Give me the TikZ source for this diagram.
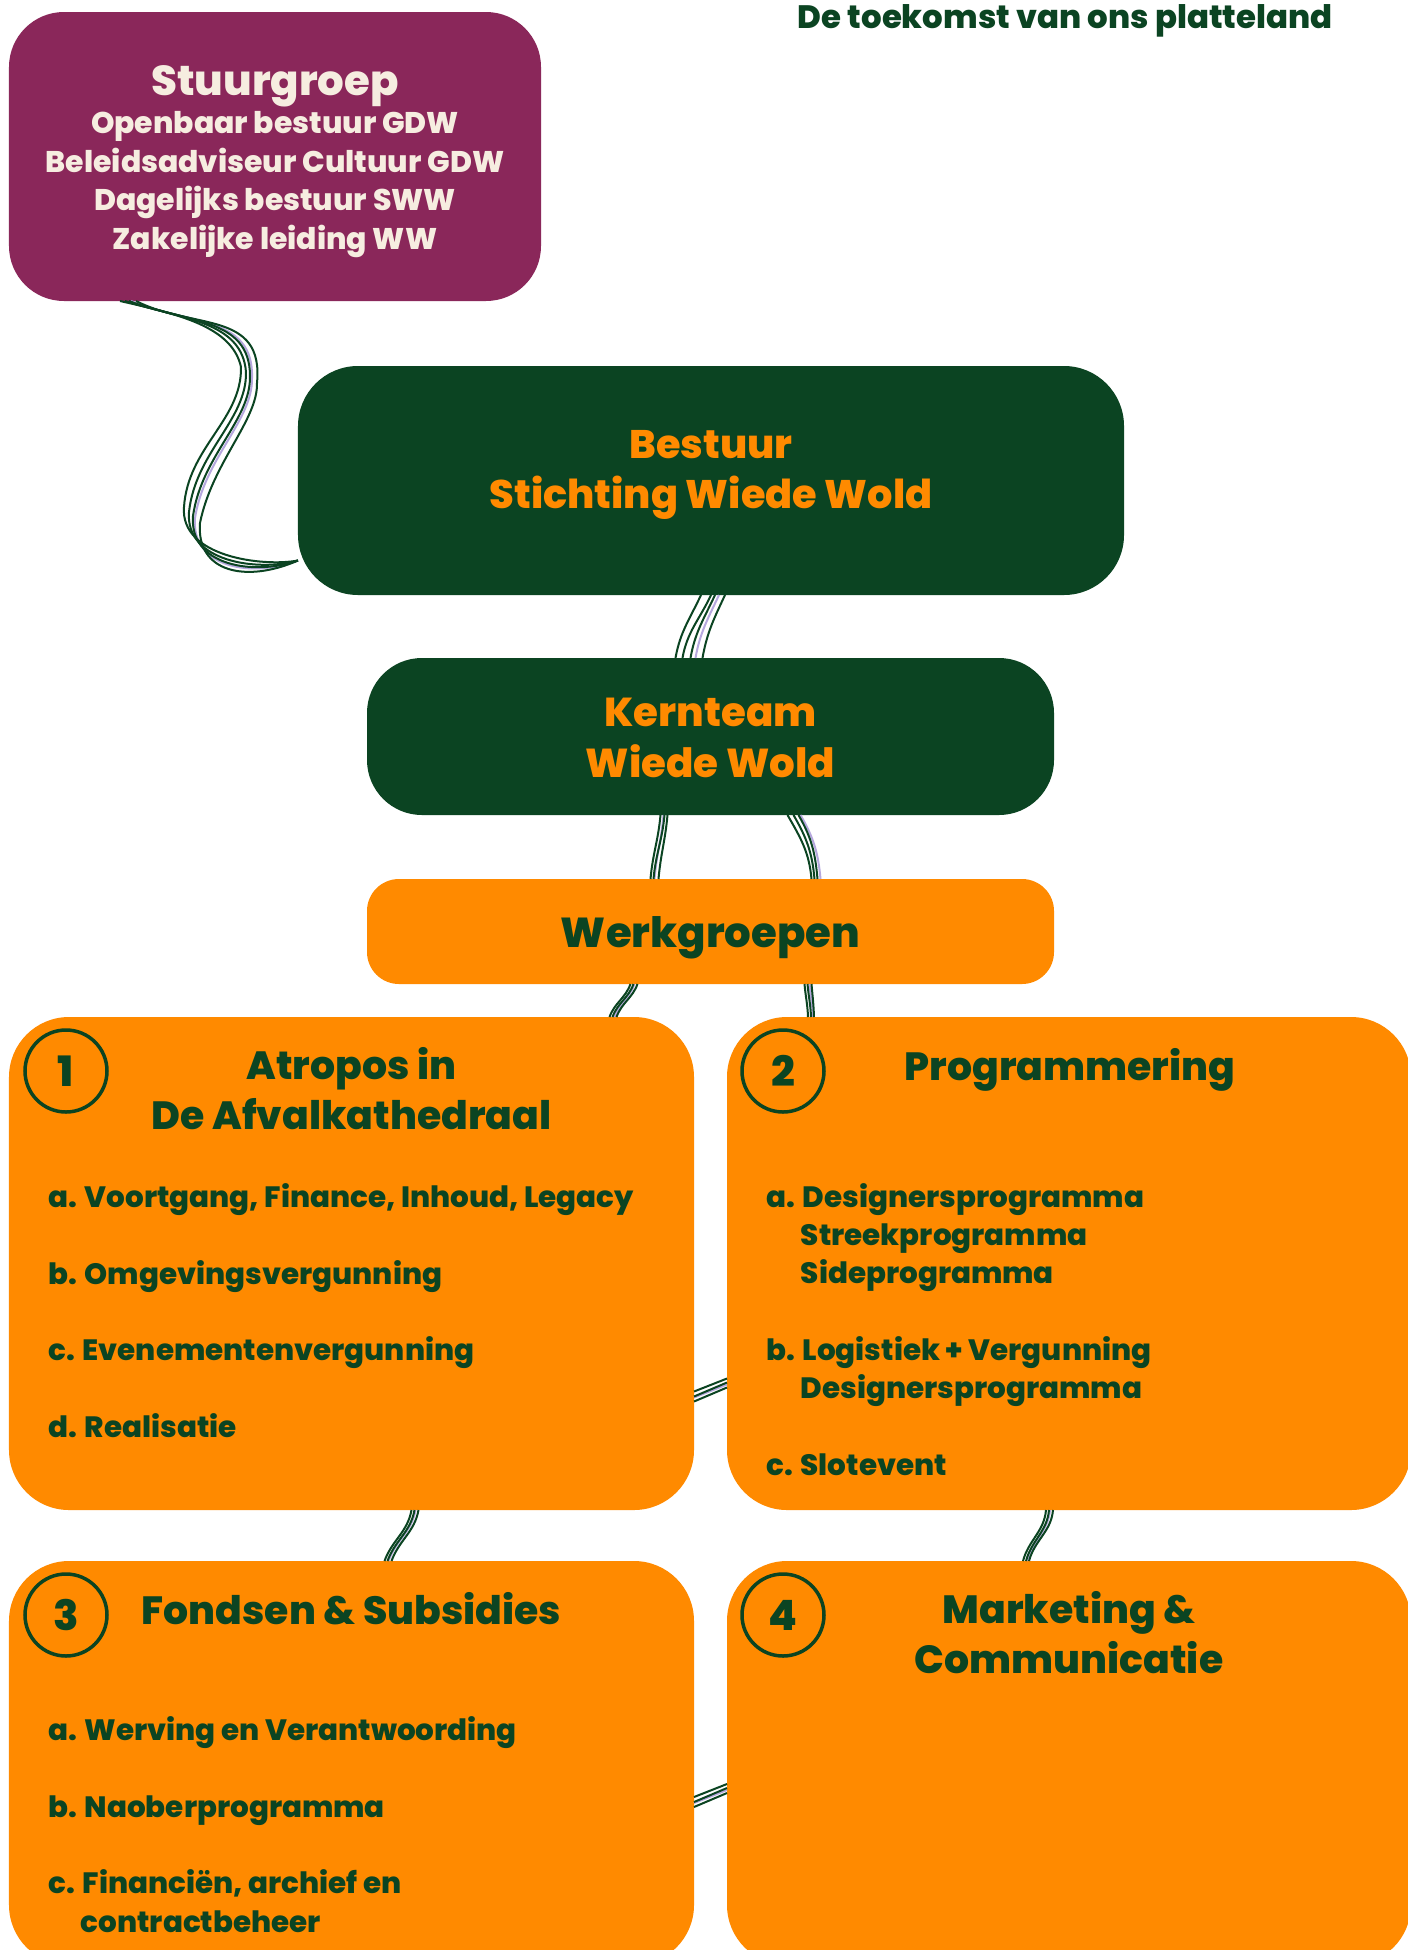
\documentclass[tikz,border=0pt]{standalone}
\usepackage{fontspec}
\setmainfont{Poppins}[BoldFont={Poppins ExtraBold}]
\usetikzlibrary{positioning}
\definecolor{wwgreen}{HTML}{0B4422}
\definecolor{wwpurple}{HTML}{8A275A}
\definecolor{wworange}{HTML}{FF8A00}
\definecolor{wwcream}{HTML}{F6EDE0}
\definecolor{wwlav}{HTML}{B6A8DE}
\newcommand{\fs}[2]{\bfseries\fontsize{#1}{#2}\selectfont}
\tikzset{
  blok/.style={inner sep=0pt,outer sep=0pt},
  strand/.style={draw=#1,line width=2bp},
  nummer/.style={circle,draw=wwgreen,line width=3.5bp,minimum size=82bp,inner sep=0pt,text=wwgreen,font=\fs{42}{42}},
  kop/.style={anchor=base,align=center,text=wwgreen,font=\fs{39.5}{50}},
  punt/.style={anchor=base west,align=left,text=wwgreen,font=\fs{29.5}{38.3}}
}
\begin{document}
\begin{tikzpicture}[x=1bp,y=-1bp]
\useasboundingbox[fill=white] (0,0) rectangle (1408,1950);
\node[blok,fill=wwpurple,rounded corners=55bp,minimum width=532bp,minimum height=289bp] (stuur) at (275,156.5) {};
\node[blok,fill=wwgreen,rounded corners=60bp,minimum width=826bp,minimum height=229bp] (best) at (711,480.5) {};
\node[blok,fill=wwgreen,rounded corners=55bp,minimum width=687bp,minimum height=157bp] (kern) at (710.5,736.5) {};
\node[blok,fill=wworange,rounded corners=32bp,minimum width=687bp,minimum height=105bp] (werk) at (710.5,931.5) {};
\node[blok,fill=wworange,rounded corners=60bp,minimum width=685bp,minimum height=493bp] (g1) at (351.5,1263.5) {};
\node[blok,fill=wworange,rounded corners=60bp,minimum width=684bp,minimum height=493bp] (g2) at (1069,1263.5) {};
\node[blok,fill=wworange,rounded corners=60bp,minimum width=685bp,minimum height=404bp] (g3) at (351.5,1763) {};
\node[blok,fill=wworange,rounded corners=60bp,minimum width=684bp,minimum height=404bp] (g4) at (1069,1763) {};

\node[anchor=base east,text=wwgreen,font=\fs{32.5}{33}] (motto) at (1336,28) {De toekomst van ons platteland};
\node[anchor=base,text=wwcream,font=\fs{42}{42}] (stuurT) at (275,95) {Stuurgroep};
\node[anchor=base,align=center,text=wwcream,font=\fs{30}{38.5}] (stuurL) at (275,249) {Openbaar bestuur GDW\\Beleidsadviseur Cultuur GDW\\Dagelijks bestuur SWW\\Zakelijke leiding WW};
\node[kop,text=wworange,font=\fs{40}{50}] (bestT) at (711,508) {Bestuur\\Stichting Wiede Wold};
\node[kop,text=wworange,font=\fs{40.5}{51}] (kernT) at (710.5,777) {Kernteam\\Wiede Wold};
\node[kop,font=\fs{42}{51}] (werkT) at (710.5,947) {Werkgroepen};

\node[nummer] (n1) at (66,1071) {1};
\node[nummer] (n2) at (783,1071) {2};
\node[nummer] (n3) at (66,1615) {3};
\node[nummer] (n4) at (783,1615) {4};
\node[kop] (g1T) at (351.5,1129) {Atropos in\\De Afvalkathedraal};
\node[kop] (g2T) at (1070,1080) {Programmering};
\node[kop] (g3T) at (351.5,1624) {Fondsen \& Subsidies};
\node[kop] (g4T) at (1069,1673) {Marketing \&\\Communicatie};
\node[punt] (g1L) at (45,1437) {a. Voortgang, Finance, Inhoud, Legacy\\[38.3bp]b. Omgevingsvergunning\\[38.3bp]c. Evenementenvergunning\\[38.3bp]d. Realisatie};
\node[punt] (g2L) at (763,1475) {a. Designersprogramma\\\phantom{a.\ }Streekprogramma\\\phantom{a.\ }Sideprogramma\\[38.3bp]b. Logistiek + Vergunning\\\phantom{b.\ }Designersprogramma\\[38.3bp]c. Slotevent};
\node[punt] (g3L) at (45,1932) {a. Werving en Verantwoording\\[38.3bp]b. Naoberprogramma\\[38.3bp]c. Financiën, archief en\\\phantom{c.\ }contractbeheer};

\foreach \d/\c in {3/wwlav,-8/wwgreen,-3/wwgreen,1/wwgreen,8/wwgreen}
  \draw[strand=\c] ([xshift={(\d-147)*1bp}]stuur.south) .. controls ({185+\d},{322+\d}) and ({248+2*\d},{318-\d}) .. ({249+\d},{375+\d}) .. controls ({250+\d},420) and ({200+1.5*\d},{455+\d}) .. ({192+\d},{515+\d}) .. controls ({188+\d},{565+\d}) and ({255-\d},{575+\d}) .. ([yshift=-80bp]best.west);
\foreach \a/\b/\c in {8/-15/wwlav,-10/-35/wwgreen,0/-28/wwgreen,14/-8/wwgreen,4/-20/wwgreen}
  \draw[strand=\c] ([xshift=\a bp]best.south) to[out=-115,in=80] ([xshift=\b bp]kern.north);
\foreach \a/\b/\c in {-47/-56/wwlav,-50/-60/wwgreen,-46/-57/wwgreen,-43/-52/wwgreen}
  \draw[strand=\c] ([xshift=\a bp]kern.south) to[out=-95,in=85] ([xshift=\b bp]werk.north);
\foreach \a/\b/\c in {90/110/wwlav,77/101/wwgreen,83/104/wwgreen,88/107/wwgreen}
  \draw[strand=\c] ([xshift=\a bp]kern.south) to[out=-60,in=95] ([xshift=\b bp]werk.north);
\foreach \a/\b/\c in {-76/263/wwlav,-80/258/wwgreen,-77/261/wwgreen,-73/265/wwgreen}
  \draw[strand=\c] ([xshift=\a bp]werk.south) to[out=-110,in=70] ([xshift=\b bp]g1.north);
\foreach \a/\b/\c in {99/-256/wwlav,94/-261/wwgreen,97/-258/wwgreen,101/-255/wwgreen}
  \draw[strand=\c] ([xshift=\a bp]werk.south) to[out=-85,in=92] ([xshift=\b bp]g2.north);
\foreach \a/\b/\c in {64/37/wwlav,60/33/wwgreen,63/36/wwgreen,67/40/wwgreen}
  \draw[strand=\c] ([xshift=\a bp]g1.south) to[out=-100,in=70] ([xshift=\b bp]g3.north);
\foreach \a/\b/\c in {-19/-42/wwlav,-23/-46/wwgreen,-20/-43/wwgreen,-16/-40/wwgreen}
  \draw[strand=\c] ([xshift=\a bp]g2.south) to[out=-95,in=75] ([xshift=\b bp]g4.north);
\foreach \a/\b/\c in {-134/-121/wwlav,-128/-115/wwgreen,-133/-119/wwgreen,-138/-124/wwgreen}
  \draw[strand=\c] ([yshift=\a bp]g1.east) -- ([yshift=\b bp]g2.west);
\foreach \a/\b/\c in {-40/-27/wwlav,-34/-21/wwgreen,-39/-25/wwgreen,-44/-30/wwgreen}
  \draw[strand=\c] ([yshift=\a bp]g3.east) -- ([yshift=\b bp]g4.west);
\end{tikzpicture}
\end{document}
